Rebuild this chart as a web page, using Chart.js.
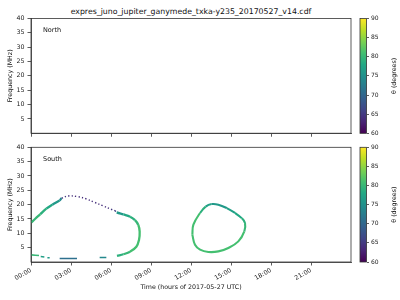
<!DOCTYPE html>
<html>
<head>
<meta charset="utf-8">
<script src="https://cdn.jsdelivr.net/npm/chart.js@4.4.0/dist/chart.umd.min.js"></script>
<style>
  body { margin: 0; background: #fff; width: 400px; height: 300px; overflow: hidden; position: relative; font-family: "DejaVu Sans"; }
  .box { position: absolute; }
  #title { position: absolute; left: 0; width: 382px; top: 6.5px; line-height: 9px; text-align: center; font-size: 7.8px; color: #111; }
</style>
</head>
<body>
<div id="title">expres_juno_jupiter_ganymede_txka-y235_20170527_v14.cdf</div>
<div class="box" style="left:0;top:0"><canvas id="north" width="360" height="140"></canvas></div>
<div class="box" style="left:0;top:140px"><canvas id="south" width="360" height="160"></canvas></div>
<div class="box" style="left:355px;top:0"><canvas id="cbNorth" width="45" height="140"></canvas></div>
<div class="box" style="left:355px;top:140px"><canvas id="cbSouth" width="45" height="160"></canvas></div>
<script>
// tick labels
var hourTicks = [0, 3, 6, 9, 12, 15, 18, 21];
var hourLabels = ['00:00', '03:00', '06:00', '09:00', '12:00', '15:00', '18:00', '21:00'];
var freqTicks = [5, 10, 15, 20, 25, 30, 35, 40];
var thetaTicks = [60, 65, 70, 75, 80, 85, 90];

// South emission: upper arc + right flank (hours, MHz, degrees)
var arcTime  = [0.03, 0.3, 0.7, 1.15, 1.6, 2.15, 2.3, 2.78, 3.5, 4.15, 4.78, 5.4, 6.0, 6.3, 6.43, 6.93, 7.43, 7.8, 8.05, 8.15, 8.1, 7.9, 7.43, 6.93, 6.45];
var arcFreq  = [13.8, 15.0, 16.7, 18.6, 20.0, 21.5, 22.2, 23.0, 22.8, 22.0, 20.8, 19.6, 18.4, 17.9, 17.3, 16.6, 15.8, 14.6, 12.9, 10.6, 7.7, 5.3, 3.6, 2.7, 2.1];
var arcTheta = [80, 80, 79, 78, 76, 74, 65, 64, 64, 64, 64, 64, 65, 66, 76, 78, 79, 80, 81, 81, 81, 81, 80, 79, 77];

// South emission: lower branch, broken into short pieces
var lowTime  = [0.03, 0.6, null, 0.73, 1.0, null, 1.23, 1.4, null, 2.15, 3.45, null, 5.15, 5.65];
var lowFreq  = [2.5, 2.25, null, 1.9, 1.75, null, 1.5, 1.5, null, 1.2, 1.2, null, 1.55, 1.55];
var lowTheta = [80, 80, 77, 77, 77, 76, 76, 76, 71, 71, 71, 74, 74, 74];

// South emission: closed loop around 12-16 h
var loopTime  = [12.1, 12.18, 12.68, 13.1, 13.55, 14.05, 14.68, 15.3, 15.8, 16.05, 16.0, 15.55, 14.8, 14.05, 13.3, 12.68, 12.3, 12.1];
var loopFreq  = [9.5, 13.0, 17.1, 19.3, 20.2, 20.0, 18.8, 17.1, 15.3, 13.6, 10.7, 7.2, 4.9, 3.7, 3.5, 4.3, 6.0, 9.5];
var loopTheta = [81, 81, 79, 77, 76, 76, 77, 78, 79, 80, 81, 81, 81, 81, 81, 81, 81, 81];

var viridisStops = ['#440154', '#482475', '#414487', '#355f8d', '#2a788e', '#21918c', '#22a884', '#44bf70', '#7ad151', '#bddf26', '#fde725'];

function hexRgb(h) {
  return [parseInt(h.substr(1, 2), 16), parseInt(h.substr(3, 2), 16), parseInt(h.substr(5, 2), 16)];
}
function viridis(theta) {
  var t = Math.max(0, Math.min(1, (theta - 60) / 30)) * 10;
  var i = Math.min(9, Math.floor(t));
  var f = t - i;
  var a = hexRgb(viridisStops[i]), b = hexRgb(viridisStops[i + 1]);
  return 'rgb(' + Math.round(a[0] + (b[0] - a[0]) * f) + ',' + Math.round(a[1] + (b[1] - a[1]) * f) + ',' + Math.round(a[2] + (b[2] - a[2]) * f) + ')';
}

function points(xs, ys) {
  return xs.map(function(x, i) { return { x: x, y: ys[i] }; });
}

var axisFont = { family: 'DejaVu Sans', size: 6.3 };

var framePlugin = {
  id: 'frame',
  afterDraw: function(chart) {
    var a = chart.chartArea, c = chart.ctx;
    c.save();
    c.strokeStyle = '#333';
    c.lineWidth = 0.8;
    c.strokeRect(a.left, a.top, a.right - a.left, a.bottom - a.top);
    if (chart.options.panelName) {
      c.fillStyle = '#111';
      c.font = '6.5px "DejaVu Sans"';
      c.textBaseline = 'middle';
      c.fillText(chart.options.panelName, a.left + 12, a.top + 12);
    }
    c.restore();
  }
};

function panelOptions(name, padTop, xHeight, showLabels) {
  return {
    responsive: false,
    animation: false,
    panelName: name,
    layout: { padding: { top: padTop, left: 0, right: 9, bottom: 0 } },
    plugins: { legend: { display: false }, tooltip: { enabled: false } },
    scales: {
      x: {
        type: 'linear', min: 0, max: 24,
        afterBuildTicks: function(s) { s.ticks = hourTicks.map(function(v) { return { value: v }; }); },
        afterFit: function(s) { s.height = xHeight; },
        grid: { drawOnChartArea: false, tickLength: 3.5, color: '#333', tickWidth: 0.8 },
        border: { color: '#333', width: 0.8 },
        ticks: {
          font: axisFont, color: '#222', padding: 1, minRotation: 30, maxRotation: 30, autoSkip: false,
          callback: function(v, i) { return showLabels ? hourLabels[i] : ''; }
        },
        title: { display: showLabels, text: 'Time (hours of 2017-05-27 UTC)', font: axisFont, color: '#111', padding: { top: 0, bottom: 9 } }
      },
      y: {
        type: 'linear', min: 0, max: 40,
        afterBuildTicks: function(s) { s.ticks = freqTicks.map(function(v) { return { value: v }; }); },
        afterFit: function(s) { s.width = 31; },
        grid: { drawOnChartArea: false, tickLength: 3.5, color: '#333', tickWidth: 0.8 },
        border: { color: '#333', width: 0.8 },
        ticks: { font: axisFont, color: '#222', padding: 3 },
        title: { display: true, text: 'Frequency (MHz)', font: axisFont, color: '#111', padding: { top: 6.5, bottom: 0 } }
      }
    }
  };
}

function lineSet(xs, ys, thetas, width) {
  return {
    data: points(xs, ys),
    showLine: true,
    spanGaps: false,
    pointRadius: 0,
    borderWidth: width,
    tension: 0.4,
    borderColor: viridis(thetas[0]),
    segment: {
      borderColor: function(ctx) { return viridis(thetas[ctx.p0DataIndex]); },
      borderDash: function(ctx) { return thetas[ctx.p0DataIndex] < 70 ? [1.3, 2.2] : undefined; },
      borderWidth: function(ctx) { return thetas[ctx.p0DataIndex] < 70 ? 1.4 : undefined; }
    }
  };
}

new Chart(document.getElementById('north'), {
  type: 'scatter',
  data: { datasets: [{ data: [] }] },
  options: panelOptions('North', 18.5, 6.7, false),
  plugins: [framePlugin]
});

new Chart(document.getElementById('south'), {
  type: 'scatter',
  data: {
    datasets: [
      lineSet(arcTime, arcFreq, arcTheta, 2.3),
      lineSet(lowTime, lowFreq, lowTheta, 1.6),
      lineSet(loopTime, loopFreq, loopTheta, 2.1)
    ]
  },
  options: panelOptions('South', 7.3, 38, true),
  plugins: [framePlugin]
});

var colorbarPlugin = {
  id: 'colorbar',
  beforeDraw: function(chart) {
    var a = chart.chartArea, c = chart.ctx;
    var g = c.createLinearGradient(0, a.bottom, 0, a.top);
    for (var i = 0; i < viridisStops.length; i++) g.addColorStop(i / 10, viridisStops[i]);
    c.save();
    c.fillStyle = g;
    c.fillRect(a.left, a.top, a.right - a.left, a.bottom - a.top);
    c.strokeStyle = '#333';
    c.lineWidth = 0.8;
    c.strokeRect(a.left, a.top, a.right - a.left, a.bottom - a.top);
    c.translate(39, (a.top + a.bottom) / 2);
    c.rotate(-Math.PI / 2);
    c.fillStyle = '#111';
    c.font = '6.3px "DejaVu Sans"';
    c.textAlign = 'center';
    c.textBaseline = 'middle';
    c.fillText('\u03b8 (degrees)', 0, 0);
    c.restore();
  }
};

function colorbar(id, padTop, padBottom) {
  new Chart(document.getElementById(id), {
    type: 'scatter',
    data: { datasets: [] },
    options: {
      responsive: false,
      animation: false,
      layout: { padding: { top: padTop, bottom: padBottom, left: 5, right: 0 } },
      plugins: { legend: { display: false }, tooltip: { enabled: false } },
      scales: {
        x: { display: false },
        y: {
          position: 'right', min: 60, max: 90,
          afterBuildTicks: function(s) { s.ticks = thetaTicks.map(function(v) { return { value: v }; }); },
          afterFit: function(s) { s.width = 33.5; },
          grid: { drawOnChartArea: false, tickLength: 2.5, color: '#333', tickWidth: 0.8 },
          border: { display: false },
          ticks: { font: { family: 'DejaVu Sans', size: 6 }, color: '#222', padding: 2 }
        }
      }
    },
    plugins: [colorbarPlugin]
  });
}

colorbar('cbNorth', 18.5, 6.7);
colorbar('cbSouth', 7.3, 38);
</script>
</body>
</html>
